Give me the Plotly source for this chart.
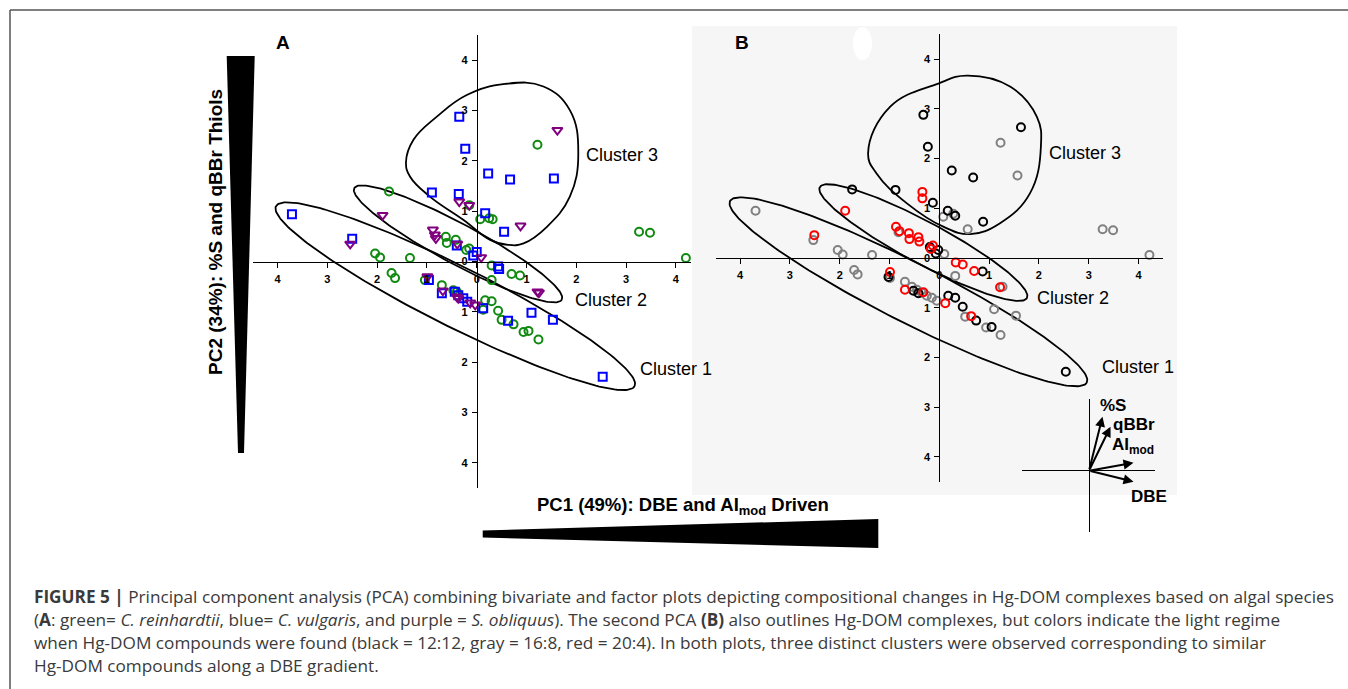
import numpy as np
import plotly.graph_objects as go

W, H = 1348, 689

# ---------------- data (PC1, PC2 scores) ----------------
A_green_x = [1.22, -1.76, -0.15, 0.07, 0.25, 0.32, 3.26, 3.48, 4.20, -0.62, -0.60, -0.42, -0.21, -0.15,
             -2.04, -1.94, -1.34, 0.30, -1.71, -1.64, -1.04, -0.70, -0.47, -0.40, 0.30, 0.70, 0.87,
             0.17, 0.30, 0.13, 0.43, 0.50, 0.74, 0.94, 1.04, 1.24]
A_green_y = [2.32, 1.39, 1.12, 0.84, 0.86, 0.84, 0.59, 0.57, 0.07, 0.49, 0.37, 0.43, 0.23, 0.26,
             0.16, 0.08, 0.07, -0.08, -0.23, -0.33, -0.37, -0.47, -0.57, -0.60, -0.37, -0.25, -0.28,
             -0.77, -0.79, -0.96, -0.98, -1.16, -1.25, -1.40, -1.38, -1.55]

A_blue_x = [-0.35, -0.23, 0.23, 0.67, 1.55, -0.90, -0.36, 0.17, 0.55, -3.71, -2.50, -0.40, 0.00, -0.07,
            0.43, 0.45, -0.96, -0.70, -0.44, -0.37, -0.27, -0.19, 0.13, 0.63, 1.10, 1.53, 2.53]
A_blue_y = [2.88, 2.24, 1.75, 1.63, 1.65, 1.37, 1.34, 0.96, 0.59, 0.94, 0.45, 0.32, 0.19, 0.12,
            -0.10, -0.15, -0.37, -0.63, -0.60, -0.67, -0.73, -0.80, -0.93, -1.18, -1.02, -1.16, -2.29]

A_purple_x = [1.62, -1.89, -0.35, -0.15, 0.88, -0.88, -0.84, -0.82, -2.54, -0.39, 0.09, -0.99, -0.68,
              -0.40, -0.37, -0.13, -0.03, 1.22, 1.25]
A_purple_y = [2.61, 0.92, 1.19, 1.12, 0.71, 0.63, 0.53, 0.46, 0.35, 0.35, 0.08, -0.30, -0.58,
              -0.70, -0.73, -0.82, -0.86, -0.60, -0.62]

B_black_x = [-0.32, -0.23, 1.64, 0.25, 0.68, -1.75, -0.88, -0.13, 0.17, 0.32, 0.88, -0.19, -0.02, -0.07,
             0.87, -1.02, -0.52, -0.42, 0.18, 0.32, 0.47, 0.74, 1.05, 2.54]
B_black_y = [2.88, 2.24, 2.63, 1.76, 1.62, 1.38, 1.37, 1.11, 0.95, 0.85, 0.73, 0.22, 0.16, 0.09,
             -0.27, -0.38, -0.66, -0.71, -0.76, -0.80, -0.98, -1.26, -1.39, -2.29]

B_gray_x = [1.23, 1.57, 0.08, 0.28, 0.57, -3.69, -2.53, -0.82, -2.04, -1.94, -1.35, 0.10, 3.28, 3.49, 4.22,
            -1.71, -1.64, -0.99, -0.69, -0.55, -0.45, -0.35, -0.25, -0.15, -0.05, 0.32, 1.27, 1.10,
            1.54, 0.52, 0.94, 1.23]
B_gray_y = [2.32, 1.66, 0.83, 0.89, 0.58, 0.95, 0.36, 0.52, 0.16, 0.07, 0.06, 0.08, 0.58, 0.56, 0.06,
            -0.24, -0.33, -0.40, -0.48, -0.58, -0.64, -0.70, -0.76, -0.80, -0.86, -0.36, -0.58, -1.03,
            -1.16, -1.18, -1.40, -1.55]

B_red_x = [-0.34, -0.34, -1.89, -2.51, -0.87, -0.80, -0.61, -0.60, -0.42, -0.40, -0.13, -0.17, 0.33, 0.47,
           0.70, -0.99, 1.22, -0.69, -0.32, 0.12, 0.64]
B_red_y = [1.33, 1.20, 0.95, 0.46, 0.63, 0.54, 0.50, 0.38, 0.42, 0.33, 0.25, 0.18, -0.09, -0.13,
           -0.26, -0.28, -0.59, -0.64, -0.69, -0.91, -1.17]

# cluster outlines: ellipses (centre x, centre y, semi-major, semi-minor, angle deg)
A_ellipses = [(-0.43, -0.69, 4.02, 0.60, -26.4), (-0.375, 0.35, 2.36, 0.40, -28.0)]
B_ellipses = [(-0.62, -0.68, 4.02, 0.60, -27.0), (-0.32, 0.31, 2.36, 0.42, -28.2)]
# cluster 3 outline points
A_c3_x = [0.57, 1.34, 1.87, 2.04, 1.87, 1.41, 0.94, 0.63, 0.27, -0.27, -0.94, -1.34, -1.42, -1.27, -0.80, -0.20]
A_c3_y = [3.53, 3.48, 3.01, 2.15, 1.29, 0.69, 0.36, 0.33, 0.43, 0.83, 1.29, 1.69, 1.98, 2.42, 2.88, 3.31]
B_c3_x = [0.55, 1.42, 1.96, 2.04, 1.82, 1.22, 0.62, 0.08, -0.65, -1.26, -1.43, -0.99, -0.02]
B_c3_y = [3.67, 3.45, 2.84, 2.24, 1.30, 0.70, 0.48, 0.63, 1.10, 1.70, 2.11, 3.04, 3.51]

ticks = [-4, -3, -2, -1, 0, 1, 2, 3, 4]
tick_text = ['4', '3', '2', '1', '0', '1', '2', '3', '4']

# loadings (biplot inset)
load_names = ['%S', 'qBBr', 'AI<sub>mod</sub>', 'DBE']
load_x = [0.27, 0.43, 0.89, 0.89]
load_y = [1.08, 0.88, 0.16, -0.22]

caption = [
    "<b>FIGURE 5 |</b> Principal component analysis (PCA) combining bivariate and factor plots depicting compositional changes in Hg-DOM complexes based on algal species",
    "(<b>A</b>: green= <i>C. reinhardtii</i>, blue= <i>C. vulgaris</i>, and purple = <i>S. obliquus</i>). The second PCA <b>(B)</b> also outlines Hg-DOM complexes, but colors indicate the light regime",
    "when Hg-DOM compounds were found (black = 12:12, gray = 16:8, red = 20:4). In both plots, three distinct clusters were observed corresponding to similar",
    "Hg-DOM compounds along a DBE gradient.",
]


def px(x):
    return x / W


def py(y):
    return 1 - y / H


fig = go.Figure()


def add_pts(x, y, color, symbol, xa, ya, size=8):
    fig.add_trace(go.Scatter(x=x, y=y, mode='markers', xaxis=xa, yaxis=ya, showlegend=False,
                             marker=dict(symbol=symbol, size=size, color=color,
                                         line=dict(color=color, width=2))))


def add_ellipse(e, xa, ya):
    cx, cy, a, b, ang = e
    t = np.linspace(0, 2 * np.pi, 200)
    th = np.radians(ang)
    ex = cx + a * np.cos(t) * np.cos(th) - b * np.sin(t) * np.sin(th)
    ey = cy + a * np.cos(t) * np.sin(th) + b * np.sin(t) * np.cos(th)
    fig.add_trace(go.Scatter(x=ex, y=ey, mode='lines', xaxis=xa, yaxis=ya, showlegend=False,
                             hoverinfo='skip', line=dict(color='black', width=1.8)))


def add_blob(xs, ys, xa, ya):
    xs2 = list(xs) + list(xs[:3])
    ys2 = list(ys) + list(ys[:3])
    fig.add_trace(go.Scatter(x=xs2[1:-1], y=ys2[1:-1], mode='lines', xaxis=xa, yaxis=ya, showlegend=False,
                             hoverinfo='skip', line=dict(color='black', width=1.8, shape='spline', smoothing=1.2)))


# Panel A
for e in A_ellipses:
    add_ellipse(e, 'x', 'y')
add_blob(A_c3_x, A_c3_y, 'x', 'y')
add_pts(A_green_x, A_green_y, '#118a11', 'circle-open', 'x', 'y')
add_pts(A_blue_x, A_blue_y, '#0000ff', 'square-open', 'x', 'y')
add_pts(A_purple_x, A_purple_y, '#800080', 'triangle-down-open', 'x', 'y', size=9)

# Panel B
for e in B_ellipses:
    add_ellipse(e, 'x2', 'y2')
add_blob(B_c3_x, B_c3_y, 'x2', 'y2')
add_pts(B_gray_x, B_gray_y, '#808080', 'circle-open', 'x2', 'y2')
add_pts(B_black_x, B_black_y, '#000000', 'circle-open', 'x2', 'y2')
add_pts(B_red_x, B_red_y, '#ff0000', 'circle-open', 'x2', 'y2')

# inset axes (dummy trace to activate)
fig.add_trace(go.Scatter(x=[0], y=[0], mode='markers', marker=dict(size=1, color='rgba(0,0,0,0)'),
                         xaxis='x3', yaxis='y3', showlegend=False, hoverinfo='skip'))


def main_axis(rng, dom_px, pos, horizontal):
    if horizontal:
        dom = [px(dom_px[0]), px(dom_px[1])]
    else:
        dom = [py(dom_px[1]), py(dom_px[0])]
    return dict(range=rng, domain=dom, anchor='free', position=pos, showline=True, linecolor='black',
                linewidth=1, ticks='outside', ticklen=5, tickwidth=1, tickcolor='black',
                tickvals=ticks, ticktext=tick_text, showgrid=False, zeroline=False,
                tickfont=dict(family='Arial', size=11, color='black', weight='bold'), ticklabelstandoff=2)


xA = main_axis([-4.492, 4.303], [253, 691], py(261.5), True)
yA = main_axis([-4.503, 4.503], [35, 488], px(476.7), False)
xB = main_axis([-4.484, 4.492], [716, 1163], py(258), True)
yB = main_axis([-4.507, 4.507], [34, 482], px(939.3), False)

inset_x = dict(domain=[px(1021.7), px(1155)], range=[-1.346, 1.32], anchor='y3', showline=False,
               showgrid=False, zeroline=True, zerolinecolor='black', zerolinewidth=1.3,
               showticklabels=False, ticks='')
inset_y = dict(domain=[py(532), py(399)], range=[-1.226, 1.434], anchor='x3', showline=False,
               showgrid=False, zeroline=True, zerolinecolor='black', zerolinewidth=1.3,
               showticklabels=False, ticks='')

shapes = []
# gray background of panel B
shapes.append(dict(type='rect', xref='paper', yref='paper', x0=px(692), x1=px(1177), y0=py(495), y1=py(26),
                   fillcolor='#f6f6f6', line=dict(width=0), layer='below'))
shapes.append(dict(type='circle', xref='paper', yref='paper', x0=px(853), x1=px(872), y0=py(60), y1=py(27),
                   fillcolor='white', line=dict(width=0), layer='below'))
# frame
shapes.append(dict(type='line', xref='paper', yref='paper', x0=px(10), x1=1, y0=py(10), y1=py(10),
                   line=dict(color='#555555', width=1.5)))
shapes.append(dict(type='line', xref='paper', yref='paper', x0=px(10), x1=px(10), y0=py(10), y1=0,
                   line=dict(color='#555555', width=1.5)))


def path(pts):
    return 'M ' + ' L '.join(f'{px(a):.5f} {py(b):.5f}' for a, b in pts) + ' Z'


shapes.append(dict(type='path', xref='paper', yref='paper',
                   path=path([(226.7, 56), (254.7, 56), (244, 453), (238, 453)]),
                   fillcolor='black', line=dict(width=0)))
shapes.append(dict(type='path', xref='paper', yref='paper',
                   path=path([(482.7, 530.5), (878.3, 519), (878.3, 548), (482.7, 537.5)]),
                   fillcolor='black', line=dict(width=0)))

C = dict(xanchor='center', yanchor='middle', showarrow=False)
ann = []
ann.append(dict(text='PC2 (34%): %S and qBBr Thiols', x=px(215), y=py(232), xref='paper', yref='paper',
                textangle=-90, font=dict(family='Arial', size=19, color='black', weight='bold'), **C))
ann.append(dict(text='PC1 (49%): DBE and AI<sub>mod</sub> Driven', x=px(683), y=py(506), xref='paper', yref='paper',
                font=dict(family='Arial', size=18.5, color='black', weight='bold'), **C))
ann.append(dict(text='A', x=px(283), y=py(43), xref='paper', yref='paper',
                font=dict(family='Arial', size=19, color='black', weight='bold'), **C))
ann.append(dict(text='B', x=px(742), y=py(43), xref='paper', yref='paper',
                font=dict(family='Arial', size=19, color='black', weight='bold'), **C))

cl_font = dict(family='Arial', size=18, color='black')
for t, x, y, xr, yr in [('Cluster 3', 2.16, 2.12, 'x', 'y'), ('Cluster 2', 1.93, -0.77, 'x', 'y'),
                        ('Cluster 1', 3.23, -2.14, 'x', 'y'), ('Cluster 3', 2.17, 2.12, 'x2', 'y2'),
                        ('Cluster 2', 1.92, -0.81, 'x2', 'y2'), ('Cluster 1', 3.23, -2.19, 'x2', 'y2')]:
    ann.append(dict(text=t, x=x, y=y, xref=xr, yref=yr, xanchor='left', yanchor='middle',
                    showarrow=False, font=cl_font))

for lx, ly in zip(load_x, load_y):
    ann.append(dict(text='', x=lx, y=ly, xref='x3', yref='y3', ax=0, ay=0, axref='x3', ayref='y3',
                    showarrow=True, arrowhead=2, arrowsize=1, arrowwidth=2, arrowcolor='black'))
lab_pos = [(0.48, 1.31), (0.89, 0.93), (0.88, 0.50), (1.19, -0.52)]
for name, (lx, ly) in zip(load_names, lab_pos):
    ann.append(dict(text=name, x=lx, y=ly, xref='x3', yref='y3',
                    font=dict(family='Arial', size=17, color='black', weight='bold'), **C))

for i, line in enumerate(caption):
    ann.append(dict(text=line, x=px(32), y=py(596 + 23.3 * i), xref='paper', yref='paper', xanchor='left',
                    yanchor='middle', showarrow=False,
                    font=dict(family='Open Sans', size=17.2, color='#3a3a3a')))

fig.update_layout(width=W, height=H, margin=dict(l=0, r=0, t=0, b=0), paper_bgcolor='white',
                  plot_bgcolor='rgba(0,0,0,0)', showlegend=False,
                  xaxis=xA, yaxis=yA, xaxis2=xB, yaxis2=yB, xaxis3=inset_x, yaxis3=inset_y,
                  shapes=shapes, annotations=ann)

fig.write_html('out.html')
